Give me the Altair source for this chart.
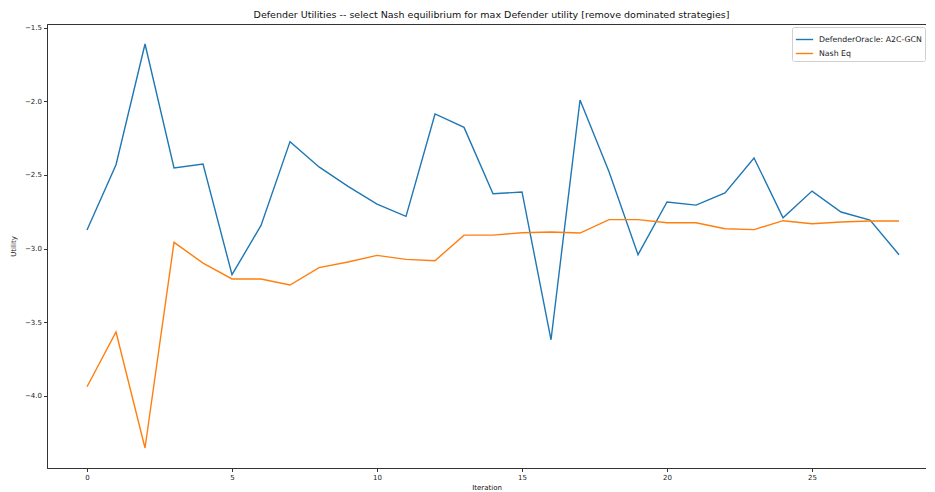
import altair as alt
import pandas as pd

iterations = list(range(29))
defender_oracle = [-2.874, -2.431, -1.611, -2.453, -2.426, -3.178, -2.843, -2.274, -2.446, -2.578,
                   -2.698, -2.782, -2.086, -2.177, -2.628, -2.616, -3.620, -1.991, -2.478, -3.042,
                   -2.684, -2.705, -2.623, -2.385, -2.791, -2.610, -2.752, -2.807, -3.042]
nash_eq = [-3.939, -3.567, -4.355, -2.958, -3.099, -3.207, -3.207, -3.248, -3.130, -3.092,
           -3.047, -3.074, -3.083, -2.909, -2.909, -2.893, -2.888, -2.895, -2.804, -2.804,
           -2.825, -2.825, -2.866, -2.872, -2.811, -2.832, -2.820, -2.813, -2.813]
series_names = ["DefenderOracle: A2C-GCN", "Nash Eq"]
series_colors = ["#1f77b4", "#ff7f0e"]
x_ticks = [0, 5, 10, 15, 20, 25]
y_ticks = [-4.0, -3.5, -3.0, -2.5, -2.0, -1.5]

rows = []
for i, v in zip(iterations, defender_oracle):
    rows.append({"Iteration": i, "Utility": v, "series": series_names[0], "order": 0})
for i, v in zip(iterations, nash_eq):
    rows.append({"Iteration": i, "Utility": v, "series": series_names[1], "order": 1})
df = pd.DataFrame(rows)

FONT = "DejaVu Sans"

chart = alt.Chart(df).mark_line(strokeWidth=1.4, clip=True).encode(
    x=alt.X("Iteration:Q",
            scale=alt.Scale(domain=[-1.38, 28.93], nice=False, zero=False),
            axis=alt.Axis(values=x_ticks, format="d", title="Iteration", grid=False)),
    y=alt.Y("Utility:Q",
            scale=alt.Scale(domain=[-4.491, -1.475], nice=False, zero=False),
            axis=alt.Axis(values=y_ticks, format=".1f", title="Utility", grid=False)),
    color=alt.Color("series:N",
                    scale=alt.Scale(domain=series_names, range=series_colors),
                    legend=alt.Legend(title=None, orient="none", legendX=745, legendY=3,
                                      symbolType="stroke", symbolSize=300, symbolStrokeWidth=1.4,
                                      labelFont=FONT, labelFontSize=7.8, labelColor="#222",
                                      fillColor="white", strokeColor="#d0d0d0", cornerRadius=2,
                                      padding=3, rowPadding=-8, labelOffset=5)),
    order="order:Q",
    detail="series:N",
).properties(
    width=879,
    height=444,
    autosize=alt.AutoSizeParams(type="none"),
    padding={"left": 39, "top": 16, "right": 0, "bottom": 24},
    title=alt.Title("Defender Utilities -- select Nash equilibrium for max Defender utility [remove dominated strategies]",
                    font=FONT, fontSize=9.5, fontWeight="normal", color="#111", anchor="middle",
                    offset=4, dx=5),
).configure_view(
    stroke="#333", strokeWidth=1
).configure_axis(
    labelFont=FONT, labelFontSize=7, labelColor="#222",
    titleFont=FONT, titleFontSize=7, titleFontWeight="normal", titleColor="#111",
    tickColor="#333", tickSize=3.5, domainColor="#333", labelPadding=2,
).configure_axisX(titlePadding=3).configure_axisY(titlePadding=8)

chart.save("out.html", embed_options={"renderer": "svg", "actions": False})
